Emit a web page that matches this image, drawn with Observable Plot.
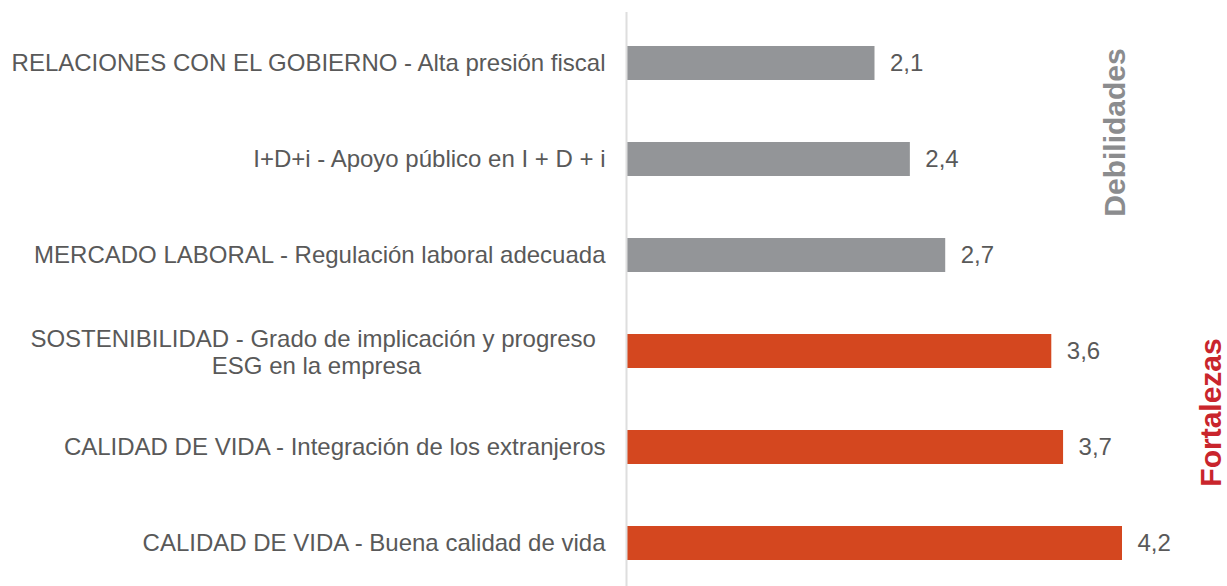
<!DOCTYPE html>
<html>
<head>
<meta charset="utf-8">
<script src="https://cdn.jsdelivr.net/npm/d3@7"></script>
<script src="https://cdn.jsdelivr.net/npm/@observablehq/plot@0.6"></script>
<style>
  html, body { margin: 0; padding: 0; background: #fff; }
  #chart { width: 1227px; height: 586px; overflow: hidden; }
</style>
</head>
<body>
<div id="chart"></div>
<script>
const categories = [
  "RELACIONES CON EL GOBIERNO - Alta presión fiscal",
  "I+D+i - Apoyo público en I + D + i",
  "MERCADO LABORAL - Regulación laboral adecuada",
  "SOSTENIBILIDAD - Grado de implicación y progreso \nESG en la empresa",
  "CALIDAD DE VIDA - Integración de los extranjeros",
  "CALIDAD DE VIDA - Buena calidad de vida"
];
const values = [2.1, 2.4, 2.7, 3.6, 3.7, 4.2];
const groups = ["Debilidades", "Debilidades", "Debilidades", "Fortalezas", "Fortalezas", "Fortalezas"];
const groupLabels = ["Debilidades", "Fortalezas"];

const data = categories.map((c, i) => ({category: c, value: values[i], group: groups[i]}));
const fmt = v => v.toFixed(1).replace(".", ",");
const single = data.filter(d => !d.category.includes("\n"));
const multi = data.filter(d => d.category.includes("\n"));

const FONT = "'Liberation Sans', Arial, sans-serif";

const chart = Plot.plot({
  width: 1227,
  height: 586,
  marginTop: 12,
  marginBottom: 0,
  marginLeft: 627,
  marginRight: 105,
  style: {fontFamily: FONT, fontSize: "24px", color: "#595959", background: "#fff"},
  x: {domain: [0, 4.2], axis: null},
  y: {domain: categories, range: [12.6, 593.4], paddingInner: 0.65, paddingOuter: 0.325, axis: null},
  color: {domain: groupLabels, range: ["#939598", "#D4471F"]},
  marks: [
    Plot.barX(data, {x: "value", y: "category", fill: "group"}),
    Plot.ruleX([0], {stroke: "#dedede", strokeWidth: 2, dx: -1}),
    Plot.text(data, {x: "value", y: "category", text: d => fmt(d.value), textAnchor: "start", dx: 15, fill: "#595959", fontSize: 24}),
    Plot.text(single, {y: "category", text: "category", frameAnchor: "left", textAnchor: "end", dx: -22, fill: "#595959", fontSize: 24}),
    Plot.text(multi, {y: "category", text: "category", frameAnchor: "left", textAnchor: "middle", dx: -311, lineHeight: 1.15, fill: "#595959", fontSize: 24}),
    Plot.text([groupLabels[0]], {text: d => d, frameAnchor: "top-right", dx: -19, dy: 120, rotate: -90, textAnchor: "middle", fill: "#8b8c8e", fontSize: 30, fontWeight: "bold"}),
    Plot.text([groupLabels[1]], {text: d => d, frameAnchor: "top-right", dx: 77, dy: 400, rotate: -90, textAnchor: "middle", fill: "#C9252C", fontSize: 30, fontWeight: "bold"})
  ]
});
document.getElementById("chart").appendChild(chart);
</script>
</body>
</html>
